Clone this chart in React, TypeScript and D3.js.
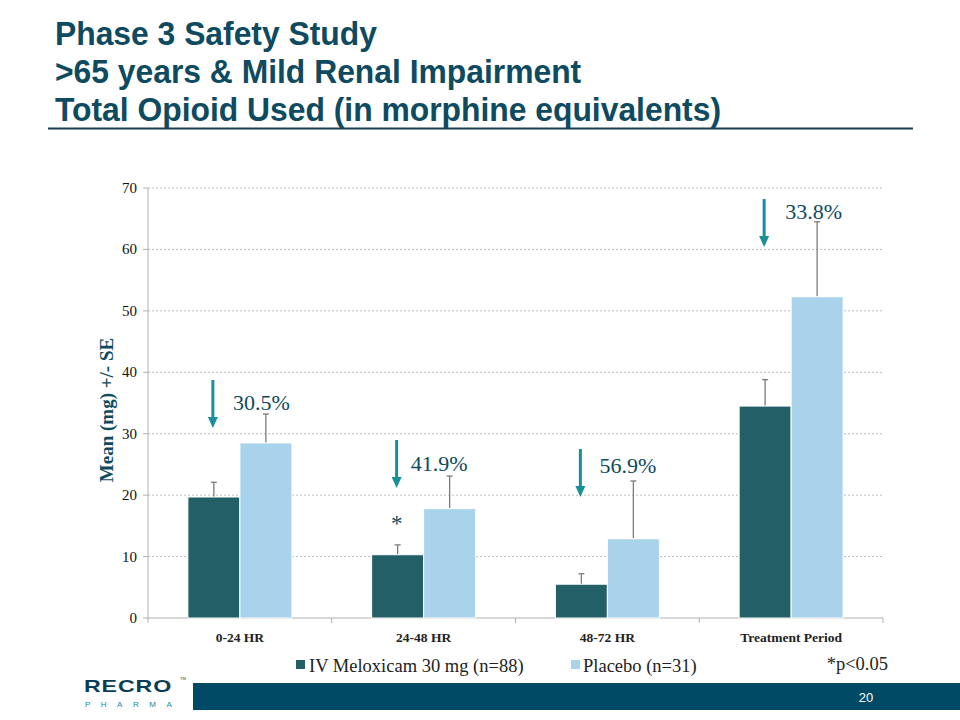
import React from "react";
import * as d3 from "d3";

const categories = ["0-24 HR", "24-48 HR", "48-72 HR", "Treatment Period"];
const meloxicam = [19.7, 10.3, 5.5, 34.5];
const meloxicamErr = [2.4, 1.6, 1.7, 4.3];
const placebo = [28.5, 17.8, 12.9, 52.3];
const placeboErr = [4.7, 5.3, 9.4, 12.2];
const reductions = ["30.5%", "41.9%", "56.9%", "33.8%"];
const significant = [false, true, false, false];
const yTicks = [0, 10, 20, 30, 40, 50, 60, 70];
const seriesNames = ["IV Meloxicam 30 mg (n=88)", "Placebo (n=31)"];

const DARK = "#225f66";
const LIGHT = "#a9d3ea";
const TEAL = "#17909a";
const NAVY = "#0e4a60";
const SERIF = "'Liberation Serif', 'DejaVu Serif', serif";
const SANS = "'Liberation Sans', Arial, sans-serif";

export default function App() {
  const left = 148, right = 883, top = 188, bottom = 618;
  const y = d3.scaleLinear().domain([0, 70]).range([bottom, top]);
  const x = d3.scaleBand().domain(categories).range([left, right]).paddingInner(0).paddingOuter(0);
  const bw = 52;
  // annotation layout (arrow tip y, label offsets)
  const arrowTips = [428, 488, 497, 247];
  const labelDx = [20, 14, 19, 21];
  const labelDy = [30, 31, 24, 20];

  return (
    <svg width={960} height={720} style={{ position: "absolute", left: 0, top: 0, background: "#fff" }}>
      {/* Title */}
      <g fontFamily={SANS} fontWeight="bold" fontSize={33} fill={NAVY} transform="translate(55,0) scale(0.965,1)">
        <text x={0} y={45}>Phase 3 Safety Study</text>
        <text x={0} y={83}>&gt;65 years &amp; Mild Renal Impairment</text>
        <text x={0} y={121}>Total Opioid Used (in morphine equivalents)</text>
      </g>
      <line x1={48} x2={913} y1={128.5} y2={128.5} stroke="#1d3f55" strokeWidth={2} />

      {/* Gridlines */}
      {yTicks.filter(t => t > 0).map(t => (
        <line key={t} x1={left} x2={right} y1={y(t)} y2={y(t)} stroke="#bdbdbd" strokeWidth={1} strokeDasharray="2,2" />
      ))}
      {/* Axes */}
      <line x1={left} x2={left} y1={top} y2={bottom} stroke="#b0b0b0" />
      <line x1={left} x2={right} y1={bottom} y2={bottom} stroke="#b0b0b0" />
      {yTicks.map(t => (
        <g key={t}>
          <line x1={left - 5} x2={left} y1={y(t)} y2={y(t)} stroke="#b0b0b0" />
          <text x={137} y={y(t) + 5} textAnchor="end" fontFamily={SERIF} fontSize={15} fill="#111">{t}</text>
        </g>
      ))}
      {[...categories.map(c => x(c)!), right].map((bx, i) => (
        <line key={i} x1={bx} x2={bx} y1={bottom} y2={bottom + 5} stroke="#b0b0b0" />
      ))}
      <text transform={`translate(113,410) rotate(-90)`} textAnchor="middle"
        fontFamily={SERIF} fontWeight="bold" fontSize={19} fill={NAVY}>Mean (mg) +/- SE</text>

      {/* Bars */}
      {categories.map((c, i) => {
        const cx = x(c)! + x.bandwidth() / 2;
        const bars = [
          { v: meloxicam[i], e: meloxicamErr[i], fill: DARK, x0: cx - bw },
          { v: placebo[i], e: placeboErr[i], fill: LIGHT, x0: cx },
        ];
        return (
          <g key={c}>
            {bars.map((b, j) => (
              <g key={j}>
                <line x1={b.x0 + bw / 2} x2={b.x0 + bw / 2} y1={y(b.v)} y2={y(b.v + b.e)} stroke="#7a7a7a" strokeWidth={1.3} />
                <line x1={b.x0 + bw / 2 - 3} x2={b.x0 + bw / 2 + 3} y1={y(b.v + b.e)} y2={y(b.v + b.e)} stroke="#7a7a7a" strokeWidth={1.3} />
                <rect x={b.x0} y={y(b.v)} width={bw} height={bottom - y(b.v)} fill={b.fill} stroke="#fff" strokeWidth={1} />
              </g>
            ))}
            <text x={cx} y={bottom + 24} textAnchor="middle" fontFamily={SERIF} fontWeight="bold" fontSize={13.5} fill="#222">{c}</text>
          </g>
        );
      })}

      {/* Arrows and reduction labels */}
      {categories.map((c, i) => {
        const cx = x(c)! + x.bandwidth() / 2;
        const ax = cx - 27;
        const arrowTip = arrowTips[i];
        const arrowTop = arrowTip - 48;
        return (
          <g key={c}>
            <line x1={ax} x2={ax} y1={arrowTop} y2={arrowTip - 10} stroke={TEAL} strokeWidth={3} />
            <path d={`M${ax - 5},${arrowTip - 11} L${ax + 5},${arrowTip - 11} L${ax},${arrowTip} Z`} fill={TEAL} />
            <text x={ax + labelDx[i]} y={arrowTop + labelDy[i]} fontFamily={SERIF} fontSize={22} fill={NAVY}>{reductions[i]}</text>
            {significant[i] && (
              <text x={ax} y={531} textAnchor="middle" fontFamily={SERIF} fontSize={23} fill={NAVY}>*</text>
            )}
          </g>
        );
      })}

      {/* Legend */}
      <g fontFamily={SERIF} fontSize={18.5} fill="#222">
        <rect x={296} y={660} width={9} height={9} fill={DARK} />
        <text x={309} y={672}>{seriesNames[0]}</text>
        <rect x={571} y={660} width={9} height={9} fill={LIGHT} />
        <text x={583} y={672}>{seriesNames[1]}</text>
        <text x={888} y={670} textAnchor="end">*p&lt;0.05</text>
      </g>

      {/* Footer */}
      <rect x={193} y={683} width={767} height={27} fill="#004a66" />
      <text x={866} y={702} textAnchor="middle" fontFamily={SANS} fontSize={13} fill="#fff">20</text>
      <text transform="translate(84,692) scale(1.45,1)" fontFamily={SANS} fontWeight="900" fontSize={16} fill="#0b3d57" letterSpacing={0.6}>RECRO</text>
      <text x={180} y={680} fontFamily={SANS} fontSize={4} fill="#0b3d57">TM</text>
      <text x={85} y={707} fontFamily={SANS} fontSize={8} fill="#1a8a9a" letterSpacing={10.5}>PHARMA</text>
    </svg>
  );
}
